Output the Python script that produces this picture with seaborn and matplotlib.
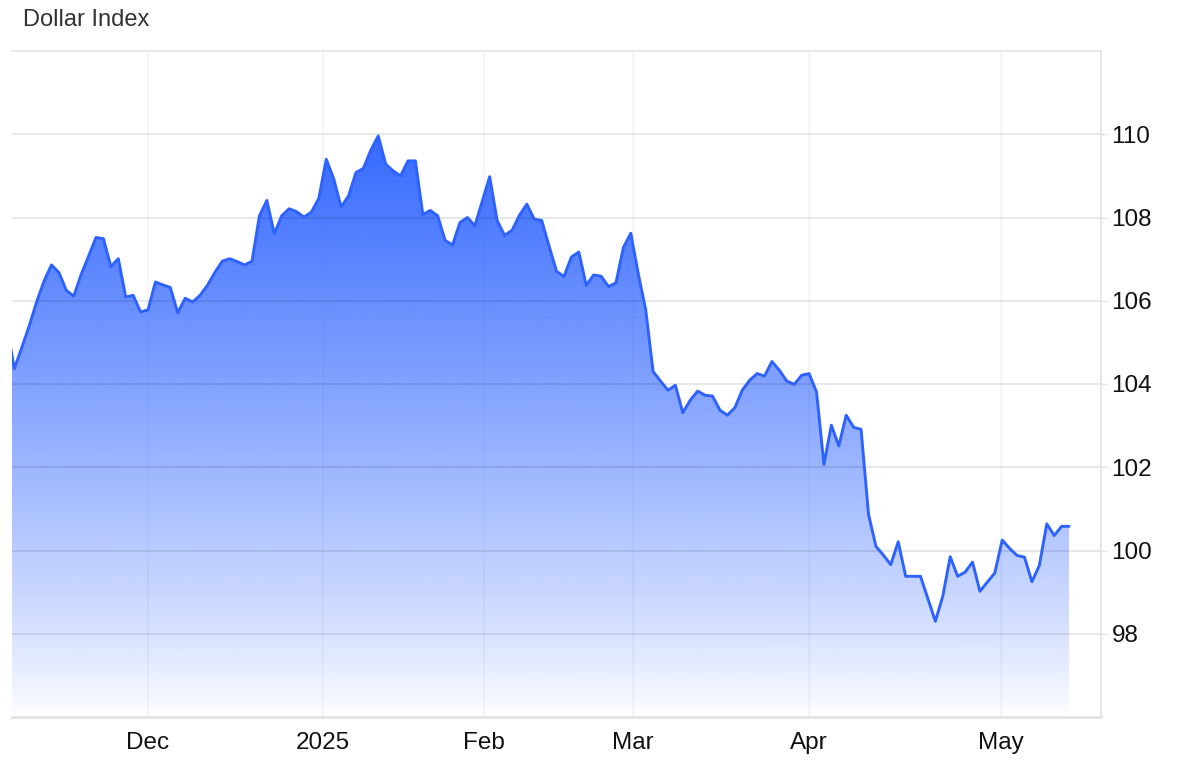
import numpy as np
import pandas as pd
import matplotlib
matplotlib.use("Agg")
import matplotlib.pyplot as plt
import matplotlib.colors as mcolors
from matplotlib.patches import Polygon
import seaborn as sns

# ---- data ----
values = [
    105.40, 104.37, 104.87, 105.39, 105.97, 106.47, 106.86, 106.68, 106.25, 106.11,
    106.63, 107.07, 107.52, 107.49, 106.82, 107.01, 106.09, 106.13, 105.73, 105.78,
    106.45, 106.38, 106.32, 105.71, 106.06, 105.97, 106.13, 106.37, 106.68, 106.95,
    107.01, 106.94, 106.86, 106.95, 108.04, 108.41, 107.61, 108.04, 108.21, 108.14,
    108.01, 108.13, 108.46, 109.40, 108.93, 108.25, 108.52, 109.08, 109.18, 109.62,
    109.96, 109.28, 109.12, 109.00, 109.36, 109.36, 108.07, 108.17, 108.04, 107.45,
    107.34, 107.88, 108.00, 107.80, 108.39, 108.98, 107.93, 107.57, 107.69, 108.05,
    108.32, 107.96, 107.93, 107.31, 106.71, 106.58, 107.05, 107.17, 106.37, 106.62,
    106.59, 106.34, 106.43, 107.28, 107.62, 106.65, 105.79, 104.30, 104.07, 103.85,
    103.97, 103.31, 103.61, 103.83, 103.73, 103.71, 103.37, 103.25, 103.43, 103.85,
    104.09, 104.25, 104.19, 104.54, 104.33, 104.07, 103.99, 104.21, 104.25, 103.81,
    102.07, 103.01, 102.51, 103.25, 102.96, 102.91, 100.87, 100.10, 99.89, 99.66,
    100.21, 99.38, 99.38, 99.38, 98.84, 98.30, 98.90, 99.85, 99.38, 99.48,
    99.72, 99.02, 99.24, 99.46, 100.25, 100.05, 99.88, 99.84, 99.25, 99.64,
    100.64, 100.36, 100.58, 100.58,
]
month_labels = ["Dec", "2025", "Feb", "Mar", "Apr", "May"]
month_pos = [19.0, 42.5, 64.2, 84.3, 108.0, 133.8]
y_ticks = [98, 100, 102, 104, 106, 108, 110]
title = "Dollar Index"

# ---- style ----
sns.set_theme(style="white")
plt.rcParams['font.family'] = ['Liberation Sans', 'DejaVu Sans']

df = pd.DataFrame({"idx": np.arange(len(values)), "value": values})

fig = plt.figure(figsize=(12, 7.78), dpi=100)
ax = fig.add_axes([12 / 1200, 1 - 717 / 778, (1101 - 12) / 1200, (717 - 51) / 778])

ymin, ymax = 96, 112
ax.set_ylim(ymin, ymax)
ax.set_xlim(0.69, 147.3)

# gradient area fill
x = df["idx"].to_numpy(dtype=float)
y = df["value"].to_numpy(dtype=float)
verts = [(x[0], ymin)] + list(zip(x, y)) + [(x[-1], ymin)]
poly = Polygon(verts, closed=True, facecolor="none", edgecolor="none")
ax.add_patch(poly)
n = 400
levels = np.linspace(ymin, ymax, n)
t = np.clip((levels - ymin) / (110 - ymin), 0, 1)
grad = np.zeros((n, 1, 4))
grad[..., :3] = mcolors.to_rgb("#3166ff")
grad[:, 0, 3] = 0.98 * t ** 0.85
im = ax.imshow(grad, extent=[x[0], x[-1], ymin, ymax], origin="lower",
               aspect="auto", zorder=1, interpolation="bilinear")
im.set_clip_path(poly)

# grid lines drawn over the fill
for v in y_ticks:
    ax.axhline(v, color=(0, 0, 0, 0.10), lw=1.3, zorder=2)
for p in month_pos:
    ax.axvline(p, color=(0.2, 0.35, 0.6, 0.06), lw=1.2, zorder=2)

sns.lineplot(data=df, x="idx", y="value", ax=ax, color="#2d62ff",
             linewidth=2.1, zorder=3)

ax.set_xlabel("")
ax.set_ylabel("")
ax.set_xticks(month_pos)
ax.set_xticklabels(month_labels)
ax.set_yticks(y_ticks)
ax.set_yticklabels([str(v) for v in y_ticks])
ax.yaxis.tick_right()
ax.grid(False)

ax.tick_params(axis="x", length=0, pad=11, labelsize=17.5, labelcolor="#111111")
ax.tick_params(axis="y", length=4.5, width=1.0, color="#e3e3e3", pad=3,
               labelsize=17.5, labelcolor="#111111")

ax.spines["left"].set_visible(False)
ax.spines["top"].set_color("#e6e6e6")
ax.spines["top"].set_linewidth(1.3)
ax.spines["right"].set_color("#e3e3e3")
ax.spines["right"].set_linewidth(1.3)
ax.spines["bottom"].set_color("#e3e3e3")
ax.spines["bottom"].set_linewidth(2.0)
for s in ax.spines.values():
    s.set_zorder(4)

fig.text(23 / 1200, 1 - 20 / 778, title, fontsize=17, color="#333333",
         ha="left", va="center")

fig.savefig("out.png", dpi=100, facecolor="white")
